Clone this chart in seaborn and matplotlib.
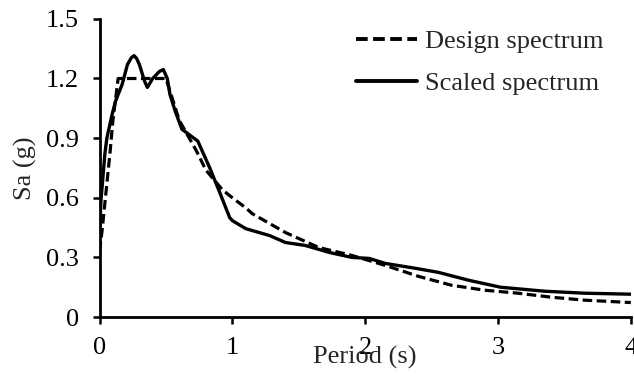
import matplotlib
matplotlib.use("Agg")
import matplotlib.pyplot as plt
import seaborn as sns
import pandas as pd

# Design spectrum (period s, Sa g)
design_T = [0.0, 0.02, 0.055, 0.08, 0.10, 0.14, 0.30, 0.50, 0.60, 0.73, 0.80, 0.925, 1.0, 1.1, 1.15,
            1.40, 1.65, 1.90, 2.15, 2.40, 2.65, 2.90, 3.15, 3.40, 3.65, 4.0]
design_Sa = [0.33, 0.44, 0.67, 0.835, 0.985, 1.20, 1.20, 1.20, 0.99, 0.835, 0.74, 0.64, 0.60, 0.55, 0.52,
             0.425, 0.35, 0.31, 0.26, 0.205, 0.16, 0.135, 0.12, 0.10, 0.085, 0.073]

# Scaled spectrum
scaled_T = [0.0, 0.01, 0.025, 0.04, 0.055, 0.095, 0.12, 0.17, 0.21, 0.24, 0.26, 0.28, 0.30, 0.34,
            0.36, 0.40, 0.45, 0.48, 0.51, 0.53, 0.57, 0.62, 0.68, 0.74, 0.83, 0.90, 0.98,
            1.0, 1.1, 1.15, 1.28, 1.40, 1.55, 1.73, 1.90, 2.03, 2.15,
            2.38, 2.55, 2.78, 3.02, 3.35, 3.65, 4.0]
scaled_Sa = [0.42, 0.58, 0.70, 0.82, 0.90, 1.02, 1.085, 1.17, 1.27, 1.305, 1.315, 1.30, 1.27, 1.185,
             1.155, 1.20, 1.235, 1.245, 1.20, 1.12, 1.035, 0.945, 0.915, 0.885, 0.75, 0.635, 0.50,
             0.485, 0.445, 0.435, 0.41, 0.375, 0.36, 0.325, 0.30, 0.295, 0.27,
             0.245, 0.225, 0.185, 0.15, 0.13, 0.12, 0.115]

x_ticks = [0, 1, 2, 3, 4]
y_ticks = [0, 0.3, 0.6, 0.9, 1.2, 1.5]
y_tick_labels = ["0", "0.3", "0.6", "0.9", "1.2", "1.5"]

sns.set_theme(style="ticks")
plt.rcParams["font.family"] = ["Liberation Serif", "DejaVu Serif"]

fig = plt.figure(figsize=(6.34, 3.77), dpi=100)
ax = fig.add_axes([0.157, 0.159, 0.838, 0.791])

df_d = pd.DataFrame({"T": design_T, "Sa": design_Sa})
df_s = pd.DataFrame({"T": scaled_T, "Sa": scaled_Sa})
sns.lineplot(data=df_d, x="T", y="Sa", ax=ax, color="black", lw=2.3,
             linestyle=(0, (3.0, 1.4)), label="Design spectrum")
sns.lineplot(data=df_s, x="T", y="Sa", ax=ax, color="black", lw=2.4,
             label="Scaled spectrum")
for ln in ax.get_lines():
    ln.set_solid_joinstyle("round")
    ln.set_dash_joinstyle("round")

ax.set_xlim(0, 4)
ax.set_ylim(0, 1.5)
ax.set_xticks(x_ticks)
ax.set_xticklabels([str(t) for t in x_ticks])
ax.set_yticks(y_ticks)
ax.set_yticklabels(y_tick_labels)
ax.tick_params(axis="both", direction="out", length=5, width=1.8, labelsize=19,
               colors="black")
ax.tick_params(axis="y", pad=10)
ax.tick_params(axis="x", pad=9)
for s in ["top", "right"]:
    ax.spines[s].set_visible(False)
for s in ["left", "bottom"]:
    ax.spines[s].set_linewidth(2.0)
    ax.spines[s].set_color("black")
    ax.spines[s].set_clip_on(False)

ax.set_xlabel("Period (s)", fontsize=19, labelpad=-9)
ax.set_ylabel("Sa (g)", fontsize=19, labelpad=6)

leg = ax.legend(loc="upper right", frameon=False, fontsize=19, handlelength=2.3,
                handletextpad=0.3, labelspacing=0.72, borderaxespad=0.0,
                bbox_to_anchor=(0.968, 1.0))
for line in leg.get_lines():
    line.set_linewidth(2.8)

fig.savefig("out.png", dpi=100)
